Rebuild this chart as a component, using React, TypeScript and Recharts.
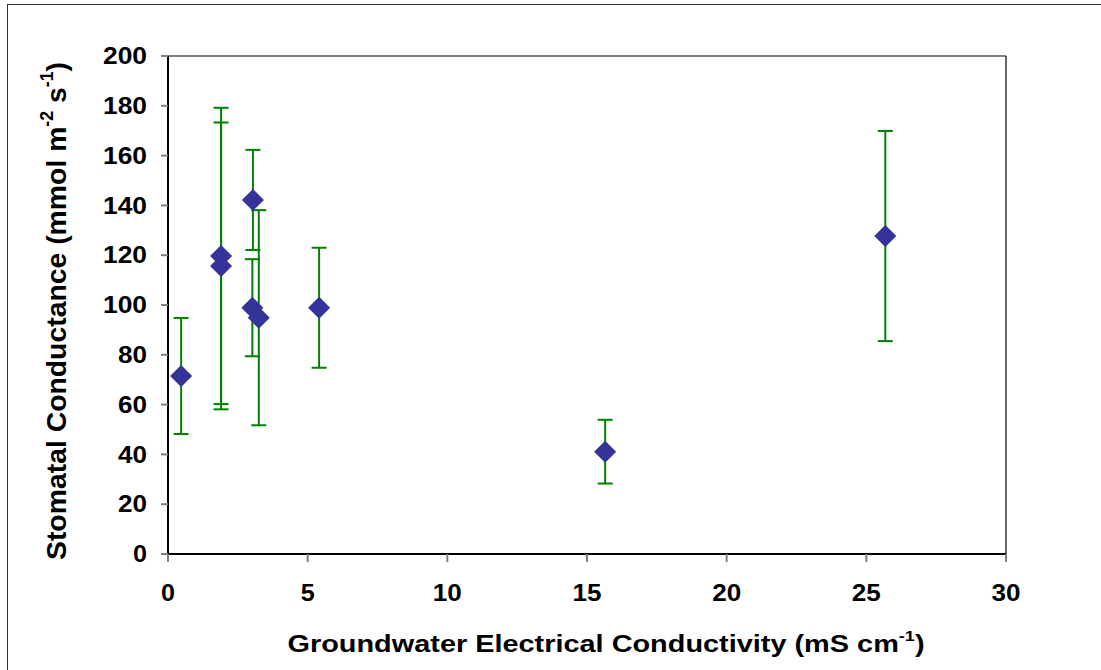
import React from "react";
import { ScatterChart, Scatter, XAxis, YAxis, ErrorBar, ReferenceLine, Label } from "recharts";

const conductivity = [0.47, 1.9, 1.9, 3.04, 3.02, 3.25, 5.41, 15.65, 25.68];
const stomatal = [71.5, 119.7, 115.7, 142.2, 98.9, 94.9, 98.9, 41.1, 127.7];
const stdError = [23.3, 59.5, 57.6, 20.1, 19.5, 43.2, 24.1, 12.8, 42.2];
const xTicks = [0, 5, 10, 15, 20, 25, 30];
const yTicks = [0, 20, 40, 60, 80, 100, 120, 140, 160, 180, 200];

const data = conductivity.map((x, i) => ({ x, y: stomatal[i], err: stdError[i] }));

const FONT = "'Liberation Sans', Arial, sans-serif";

const Diamond = (props: any) => {
  const { cx, cy } = props;
  const r = 11;
  return (
    <polygon
      points={`${cx},${cy - r} ${cx + r},${cy} ${cx},${cy + r} ${cx - r},${cy}`}
      fill="#333399"
    />
  );
};

const YTick = (props: any) => {
  const { x, y, payload } = props;
  const s = String(payload.value);
  return (
    <text
      x={x}
      y={y}
      dy="0.36em"
      textAnchor="end"
      fontFamily={FONT}
      fontWeight="bold"
      fontSize={23}
      fill="#000"
      textLength={s.length * 15 - 1}
      lengthAdjust="spacingAndGlyphs"
    >
      {s}
    </text>
  );
};

const XTick = (props: any) => {
  const { x, y, payload } = props;
  const s = String(payload.value);
  return (
    <text
      x={x}
      y={y}
      dy="0.71em"
      textAnchor="middle"
      fontFamily={FONT}
      fontWeight="bold"
      fontSize={23}
      fill="#000"
      textLength={s.length * 15 - 1}
      lengthAdjust="spacingAndGlyphs"
    >
      {s}
    </text>
  );
};

const XLabel = () => (
  <text
    x={606}
    y={652}
    textAnchor="middle"
    fontFamily={FONT}
    fontWeight="bold"
    fontSize={24}
    fill="#000"
    textLength={637}
    lengthAdjust="spacingAndGlyphs"
  >
    Groundwater Electrical Conductivity (mS cm
    <tspan dy={-11} fontSize={15}>-1</tspan>
    <tspan dy={11}>)</tspan>
  </text>
);

const YLabel = () => (
  <text
    transform="translate(66,311) scale(1.18,1) rotate(-90)"
    x={0}
    y={0}
    textAnchor="middle"
    fontFamily={FONT}
    fontWeight="bold"
    fontSize={24}
    fill="#000"
    textLength={498}
    lengthAdjust="spacingAndGlyphs"
  >
    Stomatal Conductance (mmol m
    <tspan dy={-11} fontSize={15}>-2</tspan>
    <tspan dy={11}> s</tspan>
    <tspan dy={-11} fontSize={15}>-1</tspan>
    <tspan dy={11}>)</tspan>
  </text>
);

export default function App() {
  return (
    <div style={{ position: "absolute", left: 0, top: 0, width: 1101, height: 670, background: "#fff", overflow: "hidden" }}>
      <div
        style={{
          position: "absolute",
          left: 7,
          top: 4,
          width: 1300,
          height: 900,
          borderLeft: "1.5px solid #333",
          borderTop: "1.5px solid #333",
        }}
      />
      <div style={{ position: "absolute", left: 0, top: 0 }}>
        <ScatterChart width={1101} height={670} margin={{ top: 56, right: 95, bottom: 56, left: 108 }}>
          <XAxis
            type="number"
            dataKey="x"
            domain={[0, 30]}
            ticks={xTicks}
            interval={0}
            height={60}
            axisLine={{ stroke: "#000", strokeWidth: 2 }}
            tickLine={{ stroke: "#808080", strokeWidth: 2 }}
            tickSize={8}
            tickMargin={23}
            tick={<XTick />}
          >
            <Label content={<XLabel />} />
          </XAxis>
          <YAxis
            type="number"
            dataKey="y"
            domain={[0, 200]}
            ticks={yTicks}
            interval={0}
            width={60}
            axisLine={{ stroke: "#000", strokeWidth: 2 }}
            tickLine={{ stroke: "#808080", strokeWidth: 2 }}
            tickSize={7}
            tickMargin={14}
            tick={<YTick />}
          >
            <Label content={<YLabel />} />
          </YAxis>
          <ReferenceLine y={200} stroke="#808080" strokeWidth={2} />
          <ReferenceLine x={30} stroke="#000" strokeWidth={1.2} />
          <Scatter data={data} shape={<Diamond />} isAnimationActive={false}>
            <ErrorBar dataKey="err" direction="y" width={7.5} stroke="#008000" strokeWidth={2} isAnimationActive={false} />
          </Scatter>
        </ScatterChart>
      </div>
    </div>
  );
}
